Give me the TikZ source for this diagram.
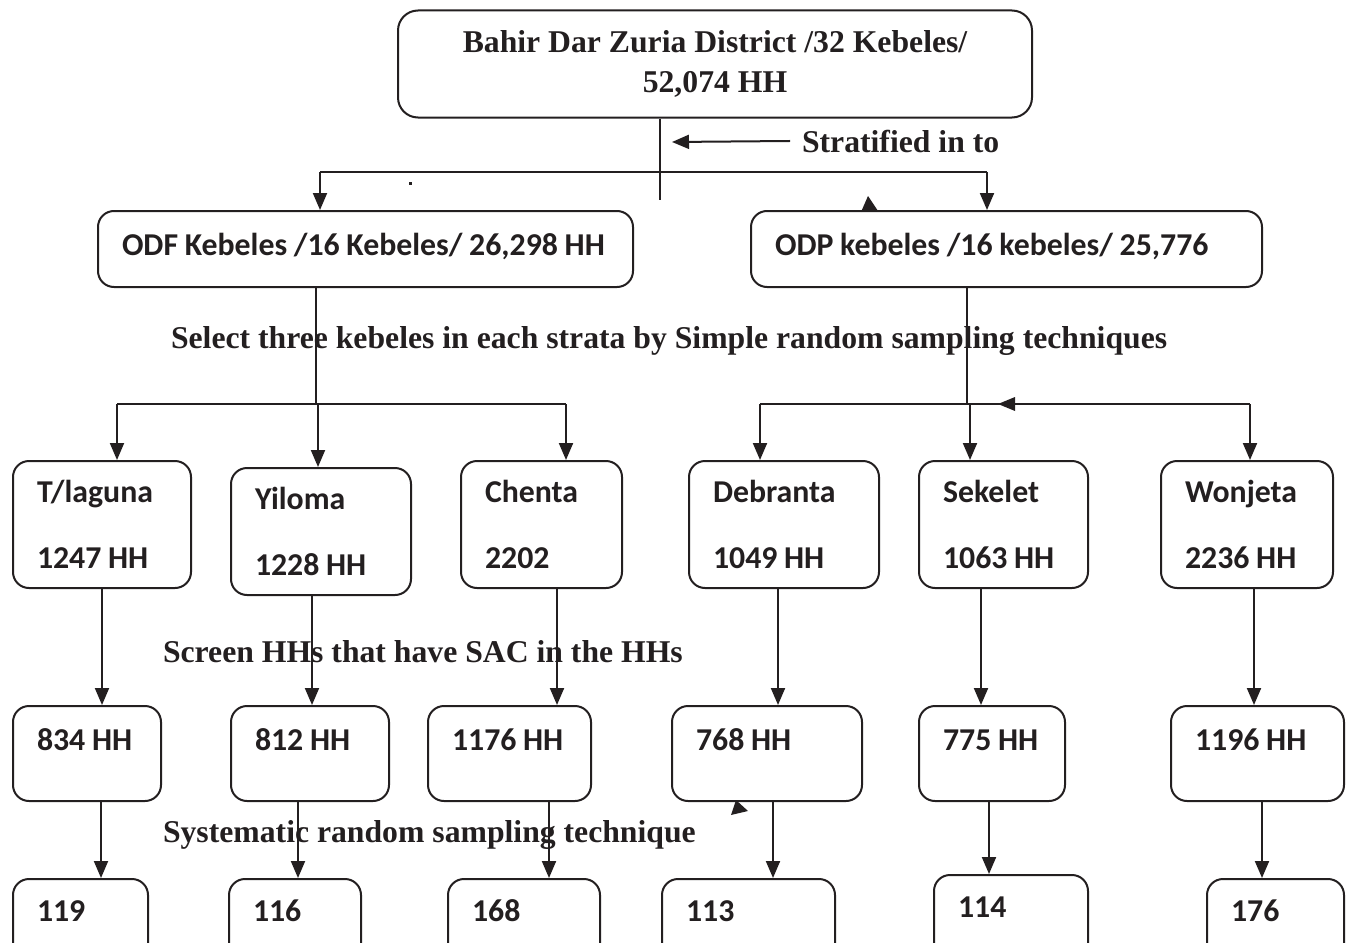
\documentclass[tikz,border=0pt]{standalone}
\usepackage{fontspec}
\setmainfont{Liberation Serif}
\newfontfamily\boxfont{Carlito}
\usetikzlibrary{arrows.meta}
\definecolor{ink}{HTML}{231F20}

\begin{document}
\begin{tikzpicture}[x=1pt, y=-1pt, line width=2pt, color=ink,
    box/.style={draw, rounded corners=16pt, inner xsep=24pt, inner ysep=0pt, align=left, anchor=north west,
      font=\boxfont\bfseries\fontsize{31.8}{66}\selectfont, execute at begin node={\spaceskip=0.21em\relax}},
    topbox/.style={draw, rounded corners=20pt, align=center, minimum width=634pt, minimum height=107pt,
      font=\bfseries\fontsize{31.7}{40}\selectfont},
    note/.style={anchor=base west, inner sep=0pt, font=\bfseries\fontsize{31.7}{38}\selectfont},
    arr/.style={-{Triangle[length=17pt,width=14pt]}}]

  \useasboundingbox (0,0) rectangle (1346,942);
  \clip (0,0) rectangle (1346,942);

  % district and strata
  \node[topbox] (dist) at (715,64) {Bahir Dar Zuria District /32 Kebeles/\\52,074 HH};
  \node[box, text width=487pt, text height=44pt, text depth=32pt] (odf) at (97,210) {\mbox{ODF Kebeles /16 Kebeles/ 26,298 HH}};
  \node[box, text width=463pt, text height=44pt, text depth=32pt] (odp) at (750,210) {\mbox{ODP kebeles /16 kebeles/ 25,776}};

  % kebeles
  \node[box, text width=130pt, minimum height=127pt] (tla) at (12,460) {T/laguna\\1247 HH};
  \node[box, text width=132pt, minimum height=127pt] (yil) at (230,467) {Yiloma\\1228 HH};
  \node[box, text width=113pt, minimum height=127pt] (che) at (460,460) {Chenta\\2202};
  \node[box, text width=142pt, minimum height=127pt] (deb) at (688,460) {Debranta\\1049 HH};
  \node[box, text width=121pt, minimum height=127pt] (sek) at (918,460) {Sekelet\\1063 HH};
  \node[box, text width=124pt, minimum height=127pt] (won) at (1160,460) {Wonjeta\\2236 HH};

  % screened HHs
  \node[box, text width=100pt, text height=44pt, text depth=51pt] (n834) at (12,705) {\mbox{834 HH}};
  \node[box, text width=110pt, text height=44pt, text depth=51pt] (n812) at (230,705) {\mbox{812 HH}};
  \node[box, text width=115pt, text height=44pt, text depth=51pt] (n1176) at (427,705) {\mbox{1176 HH}};
  \node[box, text width=142pt, text height=44pt, text depth=51pt] (n768) at (671,705) {\mbox{768 HH}};
  \node[box, text width=98pt, text height=44pt, text depth=51pt] (n775) at (918,705) {\mbox{775 HH}};
  \node[box, text width=125pt, text height=44pt, text depth=51pt] (n1196) at (1170,705) {\mbox{1196 HH}};

  % samples
  \node[box, text width=87pt, text height=42pt, text depth=42pt] (s119) at (12,878) {119};
  \node[box, text width=84pt, text height=42pt, text depth=42pt] (s116) at (228,878) {116};
  \node[box, text width=104pt, text height=42pt, text depth=42pt] (s168) at (447,878) {168};
  \node[box, text width=125pt, text height=42pt, text depth=42pt] (s113) at (661,878) {113};
  \node[box, text width=106pt, text height=42pt, text depth=42pt] (s114) at (933,874) {114};
  \node[box, text width=89pt, text height=42pt, text depth=42pt] (s176) at (1206,878) {176};

  % step labels
  \node[note] (strat) at (801,152) {Stratified in to};
  \node[note] (select) at (170,348) {Select three kebeles in each strata by Simple random sampling techniques};
  \node[note] (screen) at (162,662) {Screen HHs that have SAC in the HHs};
  \node[note] (sys) at (162,842) {Systematic random sampling technique};

  % stratification
  \coordinate (trunk) at (660,200);
  \coordinate (forkL) at (320,172);
  \coordinate (forkR) at (987,172);
  \coordinate (stratTip) at (672,142);
  \draw (dist.south -| trunk) -- (trunk);
  \draw (forkL) -- (forkR);
  \draw[arr] (forkL) -- (forkL |- odf.north);
  \draw[arr] (forkR) -- (forkR |- odp.north);
  \draw[arr] ([xshift=-11pt]strat.west) -- (stratTip);

  % selection buses
  \coordinate (odfBus) at (316,404);
  \coordinate (odfL) at (117,404);
  \coordinate (odfM) at (318,404);
  \coordinate (odfR) at (566,404);
  \coordinate (odpBus) at (967,404);
  \coordinate (odpL) at (760,404);
  \coordinate (odpM) at (970,404);
  \coordinate (odpR) at (1250,404);
  \draw (odf.south -| odfBus) -- (odfBus);
  \draw (odp.south -| odpBus) -- (odpBus);
  \draw (odfL) -- (odfR);
  \draw (odpL) -- (odpR);
  \foreach \c/\n in {odfL/tla, odfM/yil, odfR/che, odpL/deb, odpM/sek, odpR/won}
    \draw[arr] (\c) -- (\c |- \n.north);

  % screening and sampling
  \foreach \a/\b/\dx in {tla/n834/0, yil/n812/-9, che/n1176/15.5, deb/n768/-6, sek/n775/-22.5, won/n1196/7,
      n834/s119/14, n812/s116/-12, n1176/s168/39.5, n768/s113/6, n775/s114/-3, n1196/s176/4.5}{
    \coordinate (from) at ([xshift=\dx pt]\a.south);
    \draw[arr] (from) -- (from |- \b.north);
  }

  % loose marks
  \fill (868,196) -- (861,212) -- (878,211) -- cycle;
  \fill (998,404) -- (1015,397) -- (1015,411) -- cycle;
  \fill (736,800) -- (731,815) -- (748,811) -- cycle;
  \fill (409,182) rectangle (412,185);
\end{tikzpicture}
\end{document}
